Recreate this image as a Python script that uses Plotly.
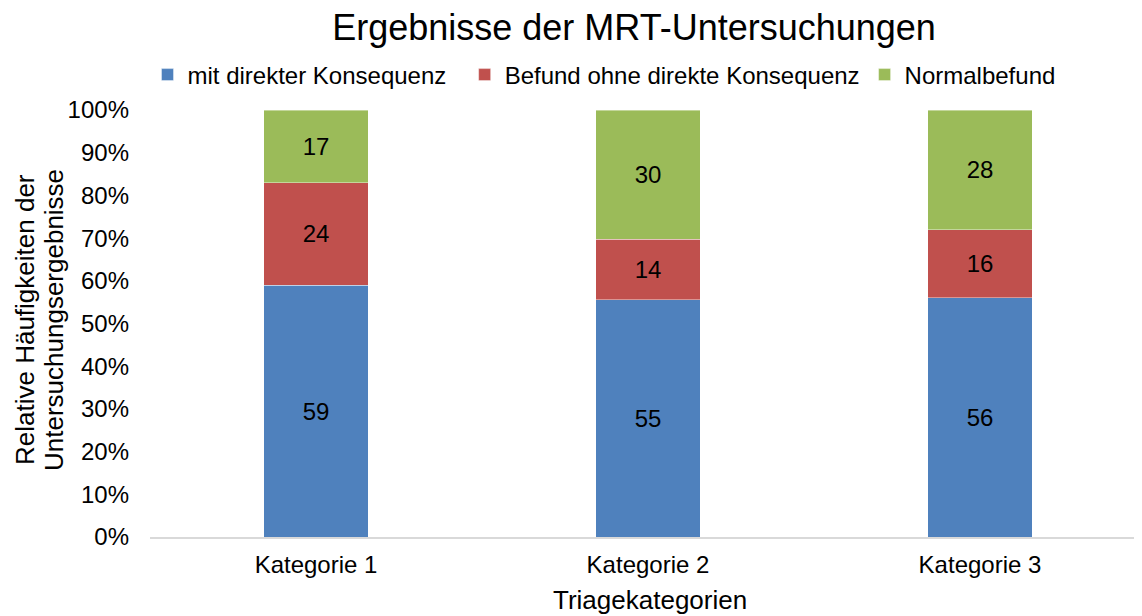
import plotly.graph_objects as go

categories = ["Kategorie 1", "Kategorie 2", "Kategorie 3"]
mit_direkter = [59, 55, 56]
ohne_direkte = [24, 14, 16]
normalbefund = [17, 30, 28]

series = [
    ("mit direkter Konsequenz\u00a0\u00a0", mit_direkter, "#4F81BD"),
    ("Befund ohne direkte Konsequenz", ohne_direkte, "#C0504D"),
    ("Normalbefund", normalbefund, "#9BBB59"),
]

font_family = "Liberation Sans, Arial, sans-serif"
OFF = 8  # page body margin
W, H = 1142 - OFF, 616 - OFF
L, T, B = 150 - OFF, 110 - OFF, 616 - 537
plot_w = W - L
plot_h = H - T - B

fig = go.Figure()
for name, vals, color in series:
    fig.add_trace(go.Bar(
        x=categories, y=vals, name=name,
        marker=dict(color=color, line=dict(color="rgba(255,255,255,0.4)", width=1)),
        text=[str(v) for v in vals], textposition="inside", insidetextanchor="middle",
        textfont=dict(color="black", size=24, family=font_family),
        width=0.316,
    ))


def px_to_plot(rx, ry):
    # reference screen pixels -> plot-area fractions
    return (rx - 150) / plot_w, 1 - (ry - 110) / plot_h


ax_x, ax_y = px_to_plot(650, 600)
y1_x, y1_y = px_to_plot(25, 320)
y2_x, y2_y = px_to_plot(54, 320)

fig.update_layout(
    barmode="stack", barnorm="percent",
    width=W, height=H,
    margin=dict(l=L, r=0, t=T, b=B, autoexpand=False),
    paper_bgcolor="white", plot_bgcolor="white",
    font=dict(family=font_family, color="black"),
    title=dict(text="Ergebnisse der MRT-Untersuchungen", xref="container", yref="container",
               x=(634 - OFF) / W, xanchor="center",
               y=1 - (27 - OFF) / H, yanchor="middle", font=dict(size=36, color="black")),
    legend=dict(orientation="h", xref="container", x=(604 - OFF) / W, xanchor="center",
                yref="container", y=1 - (75 - OFF) / H, yanchor="middle",
                font=dict(size=24), traceorder="normal", itemwidth=30),
    xaxis=dict(range=[-0.5, 2.488], showline=True, linecolor="#d9d9d9", linewidth=2,
               ticks="", tickfont=dict(size=24), ticklabelstandoff=5),
    yaxis=dict(range=[0, 100], tickvals=list(range(0, 101, 10)),
               ticktext=[f"{v}%" for v in range(0, 101, 10)],
               showgrid=False, zeroline=False, tickfont=dict(size=24), ticks="",
               ticklabelstandoff=20),
    annotations=[
        dict(text="Triagekategorien", xref="paper", yref="paper",
             x=ax_x, y=ax_y, xanchor="center", yanchor="middle",
             showarrow=False, font=dict(size=26)),
        dict(text="Relative Häufigkeiten der", xref="paper", yref="paper",
             x=y1_x, y=y1_y, xanchor="center", yanchor="middle",
             textangle=-90, showarrow=False, font=dict(size=26)),
        dict(text="Untersuchungsergebnisse", xref="paper", yref="paper",
             x=y2_x, y=y2_y, xanchor="center", yanchor="middle",
             textangle=-90, showarrow=False, font=dict(size=26)),
    ],
)

fig.write_html("out.html")
